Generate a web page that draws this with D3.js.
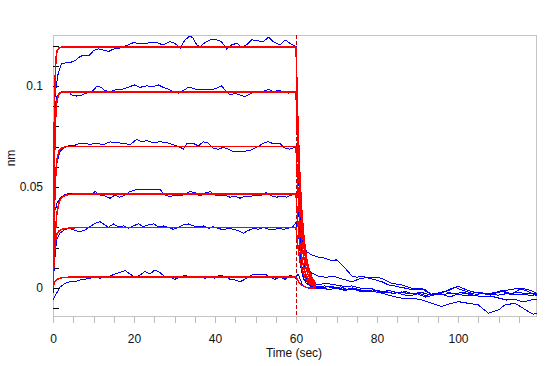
<!DOCTYPE html>
<html><head><meta charset="utf-8">
<script src="https://cdn.jsdelivr.net/npm/d3@7"></script>
<style>
html,body{margin:0;padding:0;background:#fff;}
svg{display:block;font-family:"Liberation Sans",Arial,sans-serif;}
</style></head><body>
<svg id="chart" width="547" height="366"></svg>
<script>
// ---- Data (time in sec, response in nm) ----
const xTickValues = [0,5,10,15,20,25,30,35,40,45,50,55,60,65,70,75,80,85,90,95,100,105,110,115];
const xTickLabels = [0,20,40,60,80,100];
const yTickValues = [-0.01,0,0.01,0.02,0.03,0.04,0.05,0.06,0.07,0.08,0.09,0.1,0.11,0.12];
const yLabelValues = [0,0.05,0.1];
const yLabelTexts = ["0","0.05","0.1"];
const dissociationStart = 60;

// measured sensorgrams (blue): [time, nm]
const trace1 = [[0,-0.002],[0.25,0.075],[0.5,0.0947],[0.9,0.1015],[1.3,0.1064],[2.1,0.1112],[4.2,0.1115],[5.4,0.1125],[6.7,0.1145],[7.5,0.1152],[9.1,0.1153],[10.0,0.1175],[11.2,0.1183],[12.4,0.1178],[13.7,0.1170],[14.9,0.1182],[16.5,0.1187],[18.6,0.1203],[19.8,0.1214],[22.3,0.1208],[24.0,0.1214],[25.6,0.1214],[27.2,0.1203],[28.9,0.1219],[30.1,0.1211],[31.4,0.1187],[32.6,0.1228],[33.8,0.1247],[34.6,0.1236],[35.5,0.1203],[36.3,0.1194],[37.5,0.1214],[38.8,0.1228],[40.4,0.1228],[41.6,0.1219],[42.9,0.1182],[44.1,0.1203],[45.4,0.1211],[46.6,0.1191],[47.8,0.1203],[49.1,0.1228],[51.9,0.1219],[53.2,0.1241],[54.4,0.1219],[56.0,0.1203],[57.3,0.1228],[58.5,0.1211],[60.0,0.1194],
  [60.5,0.080],[61,0.045],[61.5,0.028],[61.8,0.0213],[62.6,0.0180],[63.9,0.0163],[65.5,0.0152],[67.2,0.0147],[68.8,0.0135],[70.0,0.0139],[71.3,0.0114],[72.5,0.0089],[73.8,0.0059],[75.0,0.0053],[76.2,0.0059],[77.9,0.0048],[79.5,0.0040],[81.2,0.0031],[82.8,0.0015],[84.4,0.0010],[85.7,0.0003],[87.3,-0.0002],[88.6,-0.0010],[91.9,-0.0007],[93.5,-0.0035],[95.1,-0.0025],[97.6,-0.0013],[99.2,0.0003],[100.9,-0.0010],[103.3,-0.0026],[105.8,-0.0023],[108.3,-0.0035],[110.7,-0.0013],[113.2,-0.0030],[115.7,-0.0002],[118.1,-0.0013],[119.4,-0.0026]];
const trace2 = [[0,-0.003],[0.25,0.055],[0.5,0.0898],[1.0,0.0950],[2.1,0.0972],[3.8,0.0972],[4.6,0.0955],[5.8,0.0950],[7.1,0.0955],[8.3,0.0964],[9.6,0.0972],[10.8,0.0997],[12.0,0.0993],[12.8,0.0977],[14.1,0.0972],[15.3,0.0980],[16.5,0.0980],[17.8,0.0988],[19.0,0.0997],[20.2,0.1005],[21.5,0.0993],[23.1,0.1000],[24.8,0.0997],[26.0,0.1005],[27.2,0.0993],[28.5,0.0984],[29.7,0.0972],[30.9,0.0964],[32.2,0.0977],[33.4,0.0993],[34.6,0.0988],[35.9,0.0980],[37.1,0.0984],[38.8,0.0980],[40.4,0.0988],[41.6,0.1000],[42.5,0.0980],[43.7,0.0955],[44.9,0.0964],[46.2,0.0955],[47.4,0.0947],[48.6,0.0960],[49.9,0.0972],[51.1,0.0972],[52.3,0.0975],[53.2,0.0984],[54.4,0.0972],[55.6,0.0977],[56.9,0.0972],[58.1,0.0964],[59.3,0.0972],[60,0.0975],
  [60.5,0.062],[61,0.038],[61.5,0.022],[62.2,0.0106],[63.9,0.0073],[65.5,0.0059],[67.2,0.0053],[69.6,0.0056],[72.1,0.0040],[73.8,0.0031],[76.2,0.0048],[78.7,0.0053],[81.2,0.0048],[83.6,0.0023],[86.1,0.0015],[88.6,-0.0002],[91.0,-0.0002],[93.5,-0.0035],[96.0,-0.0026],[98.4,-0.0002],[100.1,0.0007],[102.5,-0.0013],[105.0,-0.0026],[107.5,-0.0030],[110.0,-0.0018],[112.4,-0.0010],[114.9,-0.0002],[117.4,-0.0018],[119.4,-0.0040]];
const trace3 = [[0,-0.002],[0.25,0.035],[0.6,0.055],[1.0,0.062],[1.7,0.0675],[2.5,0.0691],[3.8,0.0703],[5.0,0.0703],[6.3,0.0713],[7.5,0.0716],[9.1,0.0711],[10.8,0.0716],[12.4,0.0709],[14.1,0.0723],[15.7,0.0719],[17.4,0.0716],[19.0,0.0709],[20.7,0.0736],[21.9,0.0724],[23.1,0.0729],[24.8,0.0719],[26.4,0.0724],[28.1,0.0719],[29.7,0.0708],[31.4,0.0696],[32.2,0.0687],[33.0,0.0713],[34.6,0.0716],[35.9,0.0703],[37.1,0.0724],[38.4,0.0716],[39.6,0.0691],[40.8,0.0687],[42.1,0.0696],[43.3,0.0687],[44.5,0.0675],[46.6,0.0675],[48.6,0.0680],[50.3,0.0696],[51.9,0.0716],[53.2,0.0724],[54.4,0.0713],[56.0,0.0716],[57.3,0.0691],[58.5,0.0687],[59.8,0.0696],[60,0.0690],
  [60.5,0.044],[61,0.026],[61.5,0.015],[62,0.009],[62.5,0.005],[63.5,0.0025],[65.5,0.0015],[67.2,0.0023],[69.6,0.0015],[72.1,0.0007],[73.8,0.0010],[76.2,-0.0002],[78.7,-0.0002],[81.2,-0.0026],[83.6,-0.0040],[86.1,-0.0051],[88.6,-0.0051],[91.0,-0.0059],[93.5,-0.0076],[96.0,-0.0092],[98.4,-0.0076],[100.1,-0.0068],[102.5,-0.0076],[105.0,-0.0084],[107.5,-0.0125],[110.0,-0.0109],[111.6,-0.0084],[114.1,-0.0076],[115.7,-0.0096],[117.4,-0.0117],[118.6,-0.0130],[119.4,-0.0125]];
const trace4 = [[0,-0.002],[0.2,0.025],[0.5,0.0386],[1.0,0.0420],[1.7,0.0444],[2.9,0.0462],[4.2,0.0469],[5.4,0.0465],[6.7,0.0460],[7.9,0.0464],[9.1,0.0460],[10.4,0.0477],[11.6,0.0460],[12.8,0.0455],[14.1,0.0444],[15.3,0.0460],[16.5,0.0449],[17.8,0.0460],[19.0,0.0477],[20.2,0.0485],[21.5,0.0488],[22.7,0.0485],[23.9,0.0488],[25.2,0.0485],[26.4,0.0488],[27.6,0.0460],[28.9,0.0452],[30.1,0.0460],[31.4,0.0455],[32.6,0.0465],[33.8,0.0477],[35.1,0.0472],[36.3,0.0455],[37.5,0.0469],[38.8,0.0477],[40.0,0.0460],[41.2,0.0455],[42.5,0.0460],[43.7,0.0449],[44.9,0.0455],[46.2,0.0444],[47.4,0.0455],[48.6,0.0452],[49.9,0.0460],[51.1,0.0455],[52.7,0.0472],[54.0,0.0455],[55.2,0.0449],[56.5,0.0455],[57.7,0.0449],[58.9,0.0460],[60,0.0460],
  [60.5,0.030],[61,0.018],[61.5,0.010],[62,0.006],[62.5,0.0035],[63.5,0.0010],[64.5,0.0003],[66,-0.0005],[68,0.0008],[70,0.0003],[72,-0.0010],[74,0.0000],[76,-0.0015],[78,-0.0020],[80,-0.0010],[82,-0.0025],[84,-0.0018],[86,-0.0030],[88,-0.0040],[90,-0.0030],[92,-0.0045],[94,-0.0035],[96,-0.0030],[98,-0.0045],[100,-0.0030],[102,-0.0040],[104,-0.0035],[106,-0.0045],[108,-0.0040],[110,-0.0050],[112,-0.0060],[114,-0.0055],[116,-0.0070],[118,-0.0060],[119.4,-0.0055]];
const trace5 = [[0,-0.003],[0.3,0.0105],[0.6,0.018],[0.9,0.0238],[1.7,0.0271],[3.0,0.0290],[4.2,0.0295],[5.4,0.0284],[6.7,0.0279],[7.9,0.0287],[9.1,0.0303],[10.4,0.0320],[11.6,0.0328],[12.4,0.0317],[13.7,0.0300],[14.9,0.0317],[16.1,0.0303],[17.4,0.0307],[18.6,0.0295],[19.8,0.0307],[21.1,0.0317],[22.3,0.0303],[23.5,0.0312],[24.8,0.0317],[26.0,0.0303],[27.2,0.0307],[28.5,0.0300],[29.7,0.0290],[30.9,0.0300],[32.2,0.0312],[33.4,0.0317],[34.6,0.0307],[35.9,0.0303],[37.1,0.0307],[38.4,0.0295],[39.6,0.0303],[40.8,0.0295],[42.1,0.0287],[43.3,0.0295],[44.5,0.0290],[45.8,0.0284],[47.0,0.0271],[48.2,0.0284],[49.5,0.0295],[50.7,0.0290],[51.9,0.0300],[53.2,0.0290],[54.4,0.0287],[55.6,0.0295],[56.9,0.0290],[58.1,0.0295],[59.2,0.0303],[60,0.0323],
  [60.5,0.020],[61,0.012],[61.5,0.007],[62,0.004],[62.5,0.0025],[63.5,0.0010],[65,0.0005],[67,0.0010],[69,0.0000],[71,0.0005],[73,-0.0010],[75,-0.0005],[77,-0.0015],[79,-0.0010],[81,-0.0020],[83,-0.0012],[85,-0.0025],[87,-0.0018],[89,-0.0030],[91,-0.0022],[93,-0.0035],[95,-0.0025],[97,-0.0018],[99,-0.0030],[101,-0.0022],[103,-0.0028],[105,-0.0020],[107,-0.0032],[109,-0.0025],[111,-0.0018],[113,-0.0028],[115,-0.0022],[117,-0.0030],[119.4,-0.0026]];
const trace6 = [[0,-0.0059],[0.9,-0.0026],[1.7,0.0003],[3.0,0.0023],[4.2,0.0031],[5.4,0.0031],[6.7,0.0040],[7.9,0.0043],[9.1,0.0048],[10.4,0.0053],[11.6,0.0048],[12.8,0.0056],[14.1,0.0059],[15.3,0.0069],[16.5,0.0076],[17.8,0.0086],[19.0,0.0069],[20.2,0.0053],[21.5,0.0064],[22.7,0.0081],[23.9,0.0069],[25.2,0.0089],[26.4,0.0076],[27.6,0.0056],[28.9,0.0053],[30.1,0.0043],[31.4,0.0053],[32.6,0.0064],[33.8,0.0053],[35.1,0.0059],[36.3,0.0053],[37.5,0.0048],[38.8,0.0056],[40.0,0.0048],[41.2,0.0064],[42.5,0.0056],[43.7,0.0043],[44.9,0.0040],[46.2,0.0031],[47.4,0.0043],[48.6,0.0059],[49.9,0.0069],[51.1,0.0064],[52.3,0.0069],[53.6,0.0053],[54.8,0.0043],[56.0,0.0053],[57.3,0.0043],[58.5,0.0064],[59.8,0.0053],[60,0.0045],
  [60.5,0.0070],[61,0.0045],[61.5,0.0020],[62,0.0008],[63,0.0000],[64,-0.0005],[66,0.0003],[68,-0.0008],[70,-0.0002],[72,-0.0012],[74,-0.0005],[76,-0.0018],[78,-0.0012],[80,-0.0022],[82,-0.0015],[84,-0.0028],[86,-0.0020],[88,-0.0030],[90,-0.0025],[92,-0.0038],[94,-0.0028],[96,-0.0035],[98,-0.0025],[100,-0.0032],[102,-0.0028],[104,-0.0036],[106,-0.0025],[108,-0.0030],[110,-0.0036],[112,-0.0028],[114,-0.0034],[116,-0.0030],[118,-0.0038],[119.4,-0.0032]];

// fitted curves (red)
const fitAssocTime = [0,0.25,0.5,0.75,1,1.5,2,3,4,5,6,7,60];
const fitAssoc1 = [0,0.075,0.103,0.114,0.1175,0.1188,0.1192,0.1193,0.1193,0.1193,0.1193,0.1193,0.1193];
const fitAssoc2 = [0,0.048,0.075,0.088,0.093,0.0962,0.0968,0.0970,0.0970,0.0970,0.0970,0.0970,0.0970];
const fitAssoc3 = [0,0.030,0.048,0.058,0.064,0.0680,0.0691,0.0699,0.0700,0.0700,0.0700,0.0700,0.0700];
const fitAssoc4 = [0,0.013,0.024,0.032,0.0375,0.0425,0.0445,0.0458,0.0463,0.0464,0.0464,0.0464,0.0464];
const fitAssoc5 = [0,0.013,0.021,0.025,0.0268,0.0282,0.0289,0.0294,0.0296,0.0297,0.0299,0.0300,0.0300];
const fitAssoc6 = [0,0.0020,0.0032,0.0038,0.0042,0.0047,0.0050,0.0052,0.0053,0.0053,0.0053,0.0053,0.0053];
const fitDissocTime = [60,60.5,61,61.5,62,62.5,63,63.5,64,64.5,65];
const fitDissoc1 = [0.1193,0.0799,0.0536,0.0359,0.0241,0.0161,0.0109,0.0073,0.0049,0.0032,0.0021];
const fitDissoc2 = [0.0970,0.0650,0.0436,0.0292,0.0196,0.0131,0.0088,0.0059,0.0040,0.0026,0.0017];
const fitDissoc3 = [0.0700,0.0469,0.0314,0.0211,0.0141,0.0095,0.0064,0.0043,0.0029,0.0019,0.0013];
const fitDissoc4 = [0.0464,0.0311,0.0208,0.0140,0.0094,0.0063,0.0042,0.0028,0.0019,0.0013,0.0008];
const fitDissoc5 = [0.0300,0.0201,0.0135,0.0090,0.0061,0.0041,0.0027,0.0018,0.0012,0.0008,0.0005];
const fitDissoc6 = [0.0053,0.0035,0.0022,0.0013,0.0007,0.0003,0.0001,0.0000,-0.0001,-0.0001,-0.0001];

const traces = [trace1,trace2,trace3,trace4,trace5,trace6];
const fitAssoc = [fitAssoc1,fitAssoc2,fitAssoc3,fitAssoc4,fitAssoc5,fitAssoc6];
const fitDissoc = [fitDissoc1,fitDissoc2,fitDissoc3,fitDissoc4,fitDissoc5,fitDissoc6];

// ---- Drawing ----
const L = 53, R = 537, T = 35, B = 316;
const svg = d3.select("#chart");
const x = d3.scaleLinear().domain([0,119.5]).range([L,R]);
const y = d3.scaleLinear().domain([-0.0139,0.1252]).range([B,T]);

svg.append("defs").append("clipPath").attr("id","plotclip")
  .append("rect").attr("x",L).attr("y",T).attr("width",R-L).attr("height",B-T);

// frame
svg.append("rect").attr("x",L+0.5).attr("y",T+0.5).attr("width",R-L-1).attr("height",B-T)
  .attr("fill","none").attr("stroke","#c4c4c4").attr("shape-rendering","crispEdges");

// x axis
const xAxis = d3.axisBottom(x).tickValues(xTickValues).tickSize(7).tickPadding(11)
  .tickFormat(d => xTickLabels.includes(d) ? String(d) : "");
const gx = svg.append("g").attr("transform",`translate(0,${B})`).call(xAxis);
gx.select(".domain").remove();
gx.selectAll("line").attr("stroke","#bdbdbd").attr("shape-rendering","crispEdges");
gx.selectAll("text").attr("font-size",12).attr("fill","#111").attr("font-family","Liberation Sans, Arial, sans-serif");

// y axis
const yAxis = d3.axisLeft(y).tickValues(yTickValues).tickSize(-6).tickPadding(10)
  .tickFormat(d => { const i = yLabelValues.findIndex(v => Math.abs(v-d) < 1e-9); return i >= 0 ? yLabelTexts[i] : ""; });
const gy = svg.append("g").attr("transform",`translate(${L},0)`).call(yAxis);
gy.select(".domain").remove();
gy.selectAll("line").attr("stroke","#000").attr("shape-rendering","crispEdges");
gy.selectAll("text").attr("font-size",12).attr("fill","#111").attr("font-family","Liberation Sans, Arial, sans-serif");

// axis titles
svg.append("text").attr("x",294).attr("y",357).attr("text-anchor","middle")
  .attr("font-size",12).attr("fill","#111").text("Time (sec)");
svg.append("text").attr("transform","translate(15,158) rotate(-90)").attr("text-anchor","middle")
  .attr("font-size",12).attr("fill","#111").text("nm");

const plot = svg.append("g").attr("clip-path","url(#plotclip)");
const line = d3.line().x(d => x(d[0])).y(d => y(d[1]));

// dashed marker at start of dissociation
plot.append("line").attr("x1",x(dissociationStart)).attr("x2",x(dissociationStart))
  .attr("y1",T).attr("y2",B).attr("stroke","#c00000").attr("stroke-width",1)
  .attr("stroke-dasharray","4,2").attr("shape-rendering","crispEdges");

// blue measured traces
plot.selectAll("path.trace").data(traces).enter().append("path").attr("class","trace")
  .attr("d",line).attr("fill","none").attr("stroke","#0000ff").attr("stroke-width",1)
  .attr("shape-rendering","crispEdges");

// red fits
fitAssoc.forEach((vals,i) => {
  const pts = fitAssocTime.map((t,j) => [t, vals[j]]);
  plot.append("path").attr("d",line(pts)).attr("fill","none").attr("stroke","#ff0000")
    .attr("stroke-width",1.5).attr("shape-rendering","crispEdges");
});
fitDissoc.forEach((vals,i) => {
  const pts = fitDissocTime.map((t,j) => [t, vals[j]]);
  plot.append("path").attr("d",line(pts)).attr("fill","none").attr("stroke","#ff0000")
    .attr("stroke-width",1.5).attr("shape-rendering","crispEdges");
});
</script>
</body></html>
